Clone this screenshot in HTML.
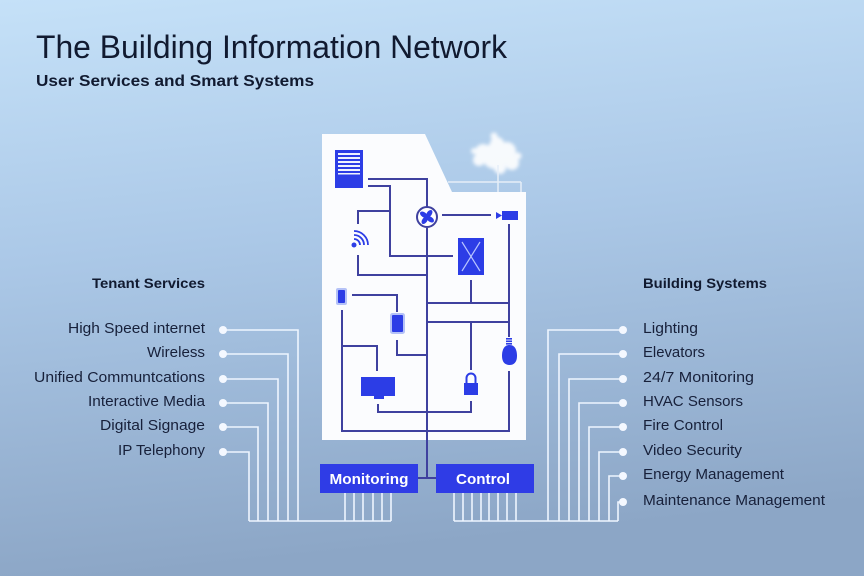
<!DOCTYPE html>
<html><head><meta charset="utf-8"><style>
html,body{margin:0;padding:0;width:864px;height:576px;overflow:hidden}
svg{display:block}
text{font-family:"Liberation Sans",sans-serif}
</style></head><body>
<svg width="864" height="576" viewBox="0 0 864 576" xmlns="http://www.w3.org/2000/svg">
<defs>
<linearGradient id="bg" x1="0" y1="0" x2="0.15" y2="1">
<stop offset="0" stop-color="#c5e1f8"/>
<stop offset="0.45" stop-color="#abc8e7"/>
<stop offset="1" stop-color="#8ca6c6"/>
</linearGradient>
<filter id="blur" x="-30%" y="-30%" width="160%" height="160%"><feGaussianBlur stdDeviation="1.8"/></filter>
</defs>
<rect width="864" height="576" fill="url(#bg)"/>

<!-- titles -->
<text x="36" y="58" font-size="32" fill="#111a30" textLength="471" lengthAdjust="spacingAndGlyphs">The Building Information Network</text>
<text x="36" y="86" font-size="16" font-weight="bold" fill="#111a30" textLength="278" lengthAdjust="spacingAndGlyphs">User Services and Smart Systems</text>

<text x="92" y="288" font-size="14" font-weight="bold" fill="#111a30" textLength="113" lengthAdjust="spacingAndGlyphs">Tenant Services</text>
<text x="643" y="288" font-size="14" font-weight="bold" fill="#111a30" textLength="124" lengthAdjust="spacingAndGlyphs">Building Systems</text>

<!-- left labels -->
<g font-size="15" fill="#17203a">
<text x="68" y="333" textLength="137" lengthAdjust="spacingAndGlyphs">High Speed internet</text>
<text x="147" y="357" textLength="58" lengthAdjust="spacingAndGlyphs">Wireless</text>
<text x="34" y="382" textLength="171" lengthAdjust="spacingAndGlyphs">Unified Communtcations</text>
<text x="88" y="406" textLength="117" lengthAdjust="spacingAndGlyphs">Interactive Media</text>
<text x="100" y="430" textLength="105" lengthAdjust="spacingAndGlyphs">Digital Signage</text>
<text x="118" y="455" textLength="87" lengthAdjust="spacingAndGlyphs">IP Telephony</text>
</g>
<!-- right labels -->
<g font-size="15" fill="#17203a">
<text x="643" y="333" textLength="55" lengthAdjust="spacingAndGlyphs">Lighting</text>
<text x="643" y="357" textLength="62" lengthAdjust="spacingAndGlyphs">Elevators</text>
<text x="643" y="382" textLength="111" lengthAdjust="spacingAndGlyphs">24/7 Monitoring</text>
<text x="643" y="406" textLength="100" lengthAdjust="spacingAndGlyphs">HVAC Sensors</text>
<text x="643" y="430" textLength="80" lengthAdjust="spacingAndGlyphs">Fire Control</text>
<text x="643" y="455" textLength="99" lengthAdjust="spacingAndGlyphs">Video Security</text>
<text x="643" y="479" textLength="141" lengthAdjust="spacingAndGlyphs">Energy Management</text>
<text x="643" y="505" textLength="182" lengthAdjust="spacingAndGlyphs">Maintenance Management</text>
</g>

<!-- white connectors -->
<g stroke="#eef5ff" stroke-width="1.6" fill="none">
<polyline points="223,330 298,330 298,521"/>
<polyline points="223,354 288,354 288,521"/>
<polyline points="223,379 278,379 278,521"/>
<polyline points="223,403 268,403 268,521"/>
<polyline points="223,427 258,427 258,521"/>
<polyline points="223,452 249,452 249,521"/>
<line x1="249" y1="521" x2="391" y2="521"/>
<line x1="345" y1="493" x2="345" y2="521"/>
<line x1="354" y1="493" x2="354" y2="521"/>
<line x1="363" y1="493" x2="363" y2="521"/>
<line x1="373" y1="493" x2="373" y2="521"/>
<line x1="382" y1="493" x2="382" y2="521"/>
<line x1="391" y1="493" x2="391" y2="521"/>

<polyline points="623,330 548,330 548,521"/>
<polyline points="623,354 559,354 559,521"/>
<polyline points="623,379 569,379 569,521"/>
<polyline points="623,403 579,403 579,521"/>
<polyline points="623,427 589,427 589,521"/>
<polyline points="623,452 599,452 599,521"/>
<polyline points="623,476 609,476 609,521"/>
<polyline points="623,502 618,502 618,521"/>
<line x1="454" y1="521" x2="618" y2="521"/>
<line x1="454" y1="493" x2="454" y2="521"/>
<line x1="463" y1="493" x2="463" y2="521"/>
<line x1="472" y1="493" x2="472" y2="521"/>
<line x1="481" y1="493" x2="481" y2="521"/>
<line x1="489" y1="493" x2="489" y2="521"/>
<line x1="498" y1="493" x2="498" y2="521"/>
<line x1="507" y1="493" x2="507" y2="521"/>
<line x1="516" y1="493" x2="516" y2="521"/>
</g>
<g fill="#f4f8ff">
<circle cx="223" cy="330" r="4"/><circle cx="223" cy="354" r="4"/><circle cx="223" cy="379" r="4"/>
<circle cx="223" cy="403" r="4"/><circle cx="223" cy="427" r="4"/><circle cx="223" cy="452" r="4"/>
<circle cx="623" cy="330" r="4"/><circle cx="623" cy="354" r="4"/><circle cx="623" cy="379" r="4"/>
<circle cx="623" cy="403" r="4"/><circle cx="623" cy="427" r="4"/><circle cx="623" cy="452" r="4"/>
<circle cx="623" cy="476" r="4"/><circle cx="623" cy="502" r="4"/>
</g>

<!-- tree and railing -->
<g filter="url(#blur)" fill="#ffffff" opacity="0.9">
<circle cx="495" cy="156" r="13"/>
<circle cx="483" cy="152" r="8"/>
<circle cx="507" cy="151" r="9"/>
<circle cx="512" cy="163" r="7"/>
<circle cx="479" cy="160" r="6"/>
<circle cx="497" cy="144" r="7"/>
<circle cx="494" cy="136" r="3.5"/>
<circle cx="500" cy="168" r="6"/>
<circle cx="474" cy="151" r="3"/>
<circle cx="518" cy="156" r="3.5"/>
</g>
<g stroke="#e6eef8" stroke-width="1.5" fill="none">
<line x1="498" y1="165" x2="498" y2="192"/>
<line x1="448" y1="182" x2="521" y2="182"/>
<line x1="521" y1="182" x2="521" y2="192"/>
</g>

<!-- building -->
<polygon points="322,134 425,134 452,192 526,192 526,440 322,440" fill="#fbfcfe"/>

<!-- wiring -->
<g stroke="#3f419f" stroke-width="2" fill="none">
<polyline points="368,179 427,179 427,207"/>
<polyline points="368,186 390,186 390,256 453,256"/>
<polyline points="390,211 358,211 358,224"/>
<polyline points="358,255 358,275 427,275"/>
<line x1="427" y1="228" x2="427" y2="478"/>
<line x1="418" y1="478" x2="436" y2="478"/>
<line x1="442" y1="215" x2="491" y2="215"/>
<line x1="509" y1="224" x2="509" y2="337"/>
<line x1="471" y1="280" x2="471" y2="303"/>
<line x1="427" y1="303" x2="509" y2="303"/>
<line x1="427" y1="322" x2="509" y2="322"/>
<line x1="471" y1="322" x2="471" y2="370"/>
<polyline points="509,371 509,431 342,431 342,310"/>
<polyline points="352,295 397,295 397,312"/>
<polyline points="397,340 397,355 427,355"/>
<polyline points="342,346 377,346 377,371"/>
<polyline points="378,404 378,412 471,412 471,401"/>
</g>

<!-- icons -->
<g fill="#2c3de6">
<!-- server -->
<rect x="335" y="150" width="28" height="38" fill="#2c3de6"/>
<g fill="#eef2ff">
<rect x="338" y="153" width="22" height="2"/>
<rect x="338" y="157" width="22" height="2"/>
<rect x="338" y="161" width="22" height="2"/>
<rect x="338" y="165" width="22" height="2"/>
<rect x="338" y="169" width="22" height="2"/>
<rect x="338" y="173" width="22" height="1.5"/>
</g>
<!-- wifi -->
<circle cx="354" cy="245" r="2.5"/>
<path d="M354,239 A6,6 0 0 1 360,245" stroke="#2c3de6" stroke-width="1.8" fill="none"/>
<path d="M354,235 A10,10 0 0 1 364,245" stroke="#2c3de6" stroke-width="1.8" fill="none"/>
<path d="M354,231 A14,14 0 0 1 368,245" stroke="#2c3de6" stroke-width="1.8" fill="none"/>
<!-- fan -->
<circle cx="427" cy="217" r="10" fill="#ffffff" stroke="#3f419f" stroke-width="2"/>
<g transform="translate(427,217)">
<ellipse cx="0" cy="-4" rx="2.5" ry="4.2" transform="rotate(35)"/>
<ellipse cx="0" cy="-4" rx="2.5" ry="4.2" transform="rotate(125)"/>
<ellipse cx="0" cy="-4" rx="2.5" ry="4.2" transform="rotate(215)"/>
<ellipse cx="0" cy="-4" rx="2.5" ry="4.2" transform="rotate(305)"/>
</g>
<!-- camera -->
<rect x="502" y="211" width="16" height="9"/>
<polygon points="496,212 502,215.5 496,219"/>
<!-- x box -->
<rect x="458" y="238" width="26" height="37"/>
<g stroke="#b8c4ff" stroke-width="1.2"><line x1="462" y1="242" x2="480" y2="271"/><line x1="480" y1="242" x2="462" y2="271"/></g>
<!-- phone -->
<rect x="336" y="288" width="11" height="17" rx="2" fill="#b5c2f7"/>
<rect x="338" y="290" width="7" height="13" rx="1"/>
<!-- tablet -->
<rect x="390" y="313" width="15" height="21" rx="2.5" fill="#b5c2f7"/>
<rect x="392" y="315" width="11" height="17" rx="1"/>
<!-- monitor -->
<rect x="361" y="377" width="34" height="19"/>
<rect x="374" y="396" width="10" height="3"/>
<!-- lock -->
<path d="M466.5,383 V378 A4.5,4.5 0 0 1 475.5,378 V383" stroke="#2c3de6" stroke-width="2" fill="none"/>
<rect x="464" y="383" width="14" height="12"/>
<!-- bulb -->
<rect x="506" y="338" width="6" height="1.6"/>
<rect x="506" y="340.5" width="6" height="1.6"/>
<rect x="506" y="343" width="6" height="1.6"/>
<path d="M509.5,345 C503,345 502,352 502,356 C502,362 505,365 509.5,365 C514,365 517,362 517,356 C517,352 516,345 509.5,345 Z"/>
</g>

<!-- boxes -->
<rect x="320" y="464" width="98" height="29" fill="#2f3ce6"/>
<rect x="436" y="464" width="98" height="29" fill="#2f3ce6"/>
<text x="369" y="484" font-size="15" font-weight="bold" fill="#ffffff" text-anchor="middle" textLength="79" lengthAdjust="spacingAndGlyphs">Monitoring</text>
<text x="483" y="484" font-size="15" font-weight="bold" fill="#ffffff" text-anchor="middle" textLength="54" lengthAdjust="spacingAndGlyphs">Control</text>
</svg>
</body></html>
